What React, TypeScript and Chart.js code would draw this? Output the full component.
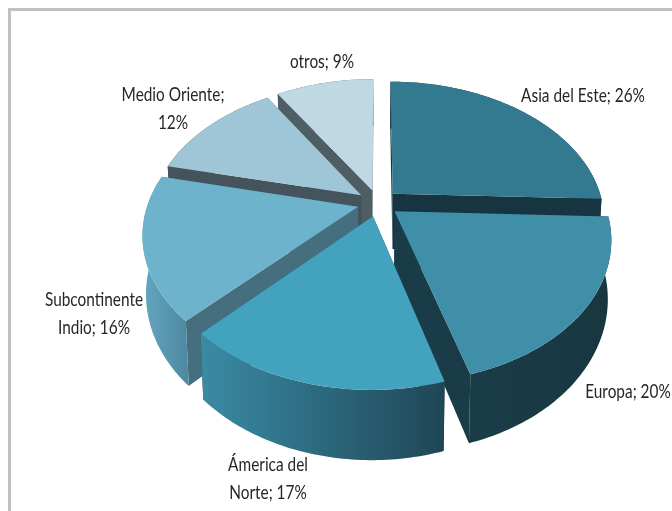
import React, { useEffect, useRef } from "react";
import { Chart, registerables, ArcElement } from "chart.js";

Chart.register(...registerables);

const categories = ["Asia del Este", "Europa", "Ámerica del Norte", "Subcontinente Indio", "Medio Oriente", "otros"];
const shares = [25.6, 19.9, 16.7, 16.45, 12.4, 8.95];
const topColors = ["#337a90", "#3f8fa8", "#43a2bd", "#6db3cc", "#9ec6d7", "#bfd8e3"];
const wallLeftColors = ["#173540", "#1b3d49", "#3a8ba5", "#64a6c0", "#44535c", "#4f5d65"];
const wallRightColors = ["#173540", "#173640", "#1f4656", "#4f8aa2", "#44535c", "#4f5d65"];
const cutColors = ["#173540", "#1a3c48", "#1f4656", "#456e7e", "#44535c", "#4f5d65"];
const labelLines = [
  ["Asia del Este; 26%"],
  ["Europa; 20%"],
  ["Ámerica del", "Norte; 17%"],
  ["Subcontinente", "Indio; 16%"],
  ["Medio Oriente;", "12%"],
  ["otros; 9%"],
];
const labelCenters = [
  [583, 96],
  [628, 392],
  [268, 465],
  [94, 300],
  [173, 95],
  [322, 62],
];

const VIEW = { cx: 378, cy: 203, a: 210, b: 136, p: 0.185, depth: 56, shrink: 0.985 };
const SLICE_OFFSET = 24;
const LABEL_SQUEEZE = 0.81;

type P = { x: number; y: number; w: number };
function project(u: number, v: number): P {
  const w = 1 - VIEW.p * v;
  return { x: VIEW.cx + (VIEW.a * u) / w, y: VIEW.cy + (VIEW.b * v) / w, w };
}
function lower(pt: P): P {
  return { x: VIEW.cx + (pt.x - VIEW.cx) * VIEW.shrink, y: pt.y + VIEW.depth / pt.w, w: pt.w };
}
function sliceGeometry(el: any) {
  const R = el.outerRadius || 1;
  const mid = (el.startAngle + el.endAngle) / 2;
  const d = (el.options?.offset ?? SLICE_OFFSET) / R;
  const ox = Math.cos(mid) * d;
  const oy = Math.sin(mid) * d;
  const apex = project(ox, oy);
  const rim: P[] = [];
  const n = Math.max(2, Math.ceil((el.endAngle - el.startAngle) / (Math.PI / 180)));
  for (let i = 0; i <= n; i++) {
    const t = el.startAngle + ((el.endAngle - el.startAngle) * i) / n;
    rim.push(project(ox + Math.cos(t), oy + Math.sin(t)));
  }
  return { apex, rim, midV: oy };
}
function tracePath(ctx: CanvasRenderingContext2D, pts: P[]) {
  ctx.beginPath();
  pts.forEach((pt, i) => (i ? ctx.lineTo(pt.x, pt.y) : ctx.moveTo(pt.x, pt.y)));
  ctx.closePath();
}

// The library's own pie loop draws the slices; each one is seen through the tilted view.
(ArcElement.prototype as any).draw = function (ctx: CanvasRenderingContext2D) {
  const { apex, rim } = sliceGeometry(this);
  ctx.save();
  tracePath(ctx, [apex, ...rim]);
  ctx.fillStyle = this.options.backgroundColor;
  ctx.fill();
  ctx.restore();
};

const wallsPlugin = {
  id: "walls",
  beforeDatasetsDraw(chart: any) {
    const { ctx } = chart;
    const arcs = chart.getDatasetMeta(0).data.map((el: any, i: number) => ({ i, ...sliceGeometry(el) }));
    arcs.sort((a: any, b: any) => a.midV - b.midV);
    for (const { i, apex, rim } of arcs) {
      const first = rim[0];
      const last = rim[rim.length - 1];
      ctx.fillStyle = cutColors[i];
      for (const corner of [first, last]) {
        tracePath(ctx, [apex, corner, lower(corner), lower(apex)]);
        ctx.fill();
      }
      const xs = rim.map((pt: P) => pt.x);
      const grad = ctx.createLinearGradient(Math.min(...xs), 0, Math.max(...xs), 0);
      grad.addColorStop(0, wallLeftColors[i]);
      grad.addColorStop(1, wallRightColors[i]);
      ctx.fillStyle = grad;
      tracePath(ctx, [...rim, ...rim.map(lower).reverse()]);
      ctx.fill();
    }
  },
};

const labelsPlugin = {
  id: "sliceLabels",
  afterDatasetsDraw(chart: any) {
    const { ctx } = chart;
    ctx.save();
    ctx.font = "19px Lato";
    ctx.fillStyle = "#262626";
    ctx.textAlign = "center";
    ctx.textBaseline = "middle";
    labelLines.forEach((lines, i) => {
      lines.forEach((line, j) => {
        ctx.save();
        ctx.translate(labelCenters[i][0], labelCenters[i][1] + j * 28);
        ctx.scale(LABEL_SQUEEZE, 1);
        ctx.fillText(line, 0, 0);
        ctx.restore();
      });
    });
    ctx.restore();
  },
};

export default function App() {
  const ref = useRef<HTMLCanvasElement>(null);
  useEffect(() => {
    document.body.style.margin = "0";
    const chart = new Chart(ref.current!, {
      type: "pie",
      data: {
        labels: categories,
        datasets: [
          {
            data: shares,
            backgroundColor: topColors,
            borderWidth: 0,
            offset: SLICE_OFFSET,
            clip: false,
          } as any,
        ],
      },
      options: {
        animation: false,
        responsive: false,
        plugins: { legend: { display: false }, tooltip: { enabled: false } },
      },
      plugins: [wallsPlugin, labelsPlugin],
    });
    return () => chart.destroy();
  }, []);
  return (
    <div style={{ position: "fixed", left: 0, top: 0, width: 672, height: 511, overflow: "hidden", background: "#fff" }}>
      <div
        style={{
          position: "absolute",
          left: 8,
          top: 8,
          width: 900,
          height: 900,
          border: "3px solid #c0c0c0",
          boxSizing: "border-box",
        }}
      />
      <canvas ref={ref} width={672} height={511} style={{ position: "absolute", left: 0, top: 0 }} />
    </div>
  );
}
